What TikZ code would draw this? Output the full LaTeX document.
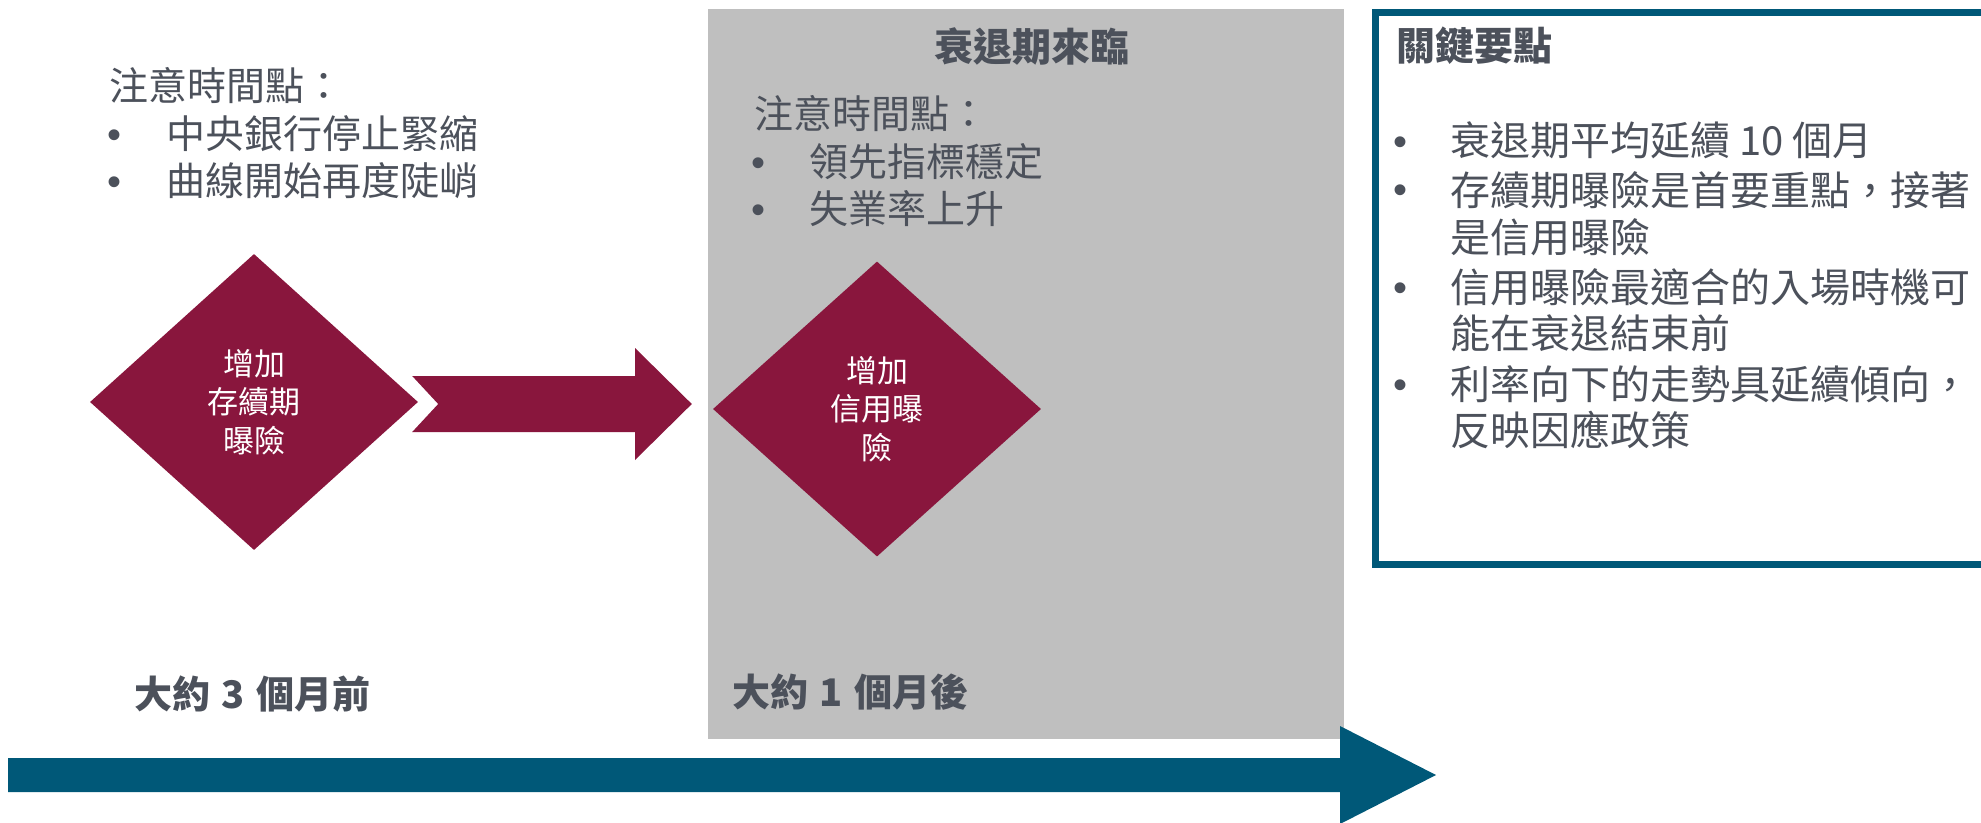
\documentclass[tikz,border=0pt]{standalone}
\usepackage{fontspec}
\setmainfont{Noto Sans CJK TC}
\newfontfamily\bulfont{Liberation Sans}
\usetikzlibrary{shapes.geometric,calc}
\definecolor{maroon}{RGB}{137,22,61}
\definecolor{tealc}{RGB}{0,88,120}
\definecolor{grayband}{RGB}{191,191,191}
\definecolor{txt}{RGB}{76,81,91}
\begin{document}
\begin{tikzpicture}[x=1pt,y=-1pt,
 body/.style={font=\fontsize{39}{47}\selectfont, text=txt, inner sep=0pt, anchor=west, text height=34.3pt, text depth=4.7pt},
 bodyR/.style={font=\fontsize{40}{48}\selectfont, text=txt, inner sep=0pt, anchor=west, text height=35.2pt, text depth=4.8pt},
 bul/.style={font=\bulfont\fontsize{40}{48}\selectfont, text=txt, inner sep=0pt, anchor=center, text height=28pt, text depth=0pt},
 headtxt/.style={font=\fontsize{39}{46}\selectfont\bfseries, text=txt, inner sep=0pt, text height=34.3pt, text depth=4.7pt},
 whentxt/.style={font=\fontsize{38}{44}\selectfont\bfseries, text=txt, inner sep=0pt, anchor=west, text height=33.4pt, text depth=4.6pt},
 dia/.style={diamond, fill=maroon, inner sep=0pt, minimum width=328pt, minimum height=296pt, text=white, align=center, font=\fontsize{31}{38.5}\selectfont},
]
\useasboundingbox (0,0) rectangle (1981,822);
\clip (0,0) rectangle (1981,822);
\fill[white] (0,0) rectangle (1981,822);

% gray recession band
\fill[grayband] (708,9) rectangle (1344,739);

% timeline arrow
\fill[tealc] (8,758) -- (1340,758) -- (1340,726) -- (1436,775) -- (1340,824) -- (1340,792) -- (8,792) -- cycle;

% key points box
\draw[tealc, line width=7pt] (1375,12.5) rectangle (2000,564.5);
\node[headtxt, anchor=west] (kt) at (1396,46) {關鍵要點};
\node[bul] (kb1) at (1400,141) {•};
\node[bodyR] (k1) at (1450,140) {衰退期平均延續 10 個月};
\node[bul] (kb2) at (1400,189) {•};
\node[bodyR] (k2a) at (1450,190) {存續期曝險是首要重點，接著};
\node[bodyR] (k2b) at (1450,237) {是信用曝險};
\node[bul] (kb3) at (1400,287) {•};
\node[bodyR] (k3a) at (1450,287) {信用曝險最適合的入場時機可};
\node[bodyR] (k3b) at (1450,333) {能在衰退結束前};
\node[bul] (kb4) at (1400,384) {•};
\node[bodyR] (k4a) at (1450,384) {利率向下的走勢具延續傾向，};
\node[bodyR] (k4b) at (1450,430) {反映因應政策};

% left text
\node[body] (l0) at (109,86) {注意時間點：};
\node[bul] (lb1) at (115,134) {•};
\node[body] (l1) at (166,134) {中央銀行停止緊縮};
\node[bul] (lb2) at (115,181) {•};
\node[body] (l2) at (166,181) {曲線開始再度陡峭};

% middle text
\node[headtxt, anchor=center] (mt) at (1032,47) {衰退期來臨};
\node[body] (m0) at (754,114) {注意時間點：};
\node[bul] (mb1) at (758,162) {•};
\node[body] (m1) at (809,162) {領先指標穩定};
\node[bul] (mb2) at (758,209) {•};
\node[body] (m2) at (809,209) {失業率上升};

% diamonds
\node[dia] (d1) at (254,402) {增加\\存續期\\曝險};
\node[dia, minimum height=295pt] (d2) at (877,409) {增加\\信用曝\\險};

% block arrow between diamonds
\coordinate (at) at ($(d1.east)+(-6,-26)$);
\coordinate (ab) at ($(d1.east)+(-6,30)$);
\coordinate (an) at ($(d1.east)+(20,2)$);
\coordinate (tip) at ($(d2.west)+(-21,-5)$);
\fill[maroon] (at) -- (635,376) -- (635,348) -- (tip) -- (635,460) -- (635,432) -- (ab) -- (an) -- cycle;

% bottom labels
\node[whentxt] (w1) at (134,694) {大約\hspace{0.3em}3\hspace{0.3em}個月前};
\node[whentxt] (w2) at (732,692) {大約\hspace{0.3em}1\hspace{0.3em}個月後};
\end{tikzpicture}
\end{document}
